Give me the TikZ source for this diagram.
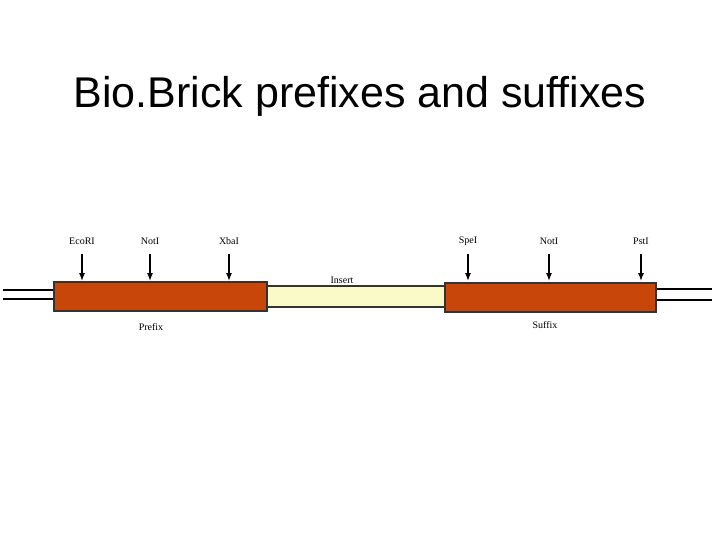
\documentclass[tikz,border=0pt]{standalone}
\usepackage{fontspec}
\usetikzlibrary{arrows.meta}
\setmainfont{Liberation Serif}
\newfontfamily\titlefont{Liberation Sans}
\definecolor{brick}{HTML}{C8460A}
\definecolor{ins}{HTML}{FAFAC8}
\begin{document}
\begin{tikzpicture}[x=1pt,y=-1pt,
 box/.style={draw=black!80,line width=1.5pt},
 lbl/.style={font=\fontsize{10}{11}\selectfont,inner sep=0pt},
 cut/.style={-{Latex[length=8pt,width=6pt]},line width=1.3pt}]
\useasboundingbox (0,0) rectangle (720,540);
\node (title) at (360,96) {\titlefont\fontsize{43}{47}\selectfont Bio.Brick prefixes and suffixes};
\draw[line width=2.5pt] (3,290) -- (54,290) (656,289) -- (712,289);
\draw[line width=1.5pt] (3,299) -- (54,299) (656,300) -- (712,300);
\node[box,fill=ins,minimum width=178pt,minimum height=21pt,inner sep=0pt] (ins) at (356,296.5) {};
\node[box,fill=brick,minimum width=213pt,minimum height=29pt,inner sep=0pt] (pre) at (160.5,296.5) {};
\node[box,fill=brick,minimum width=211pt,minimum height=29pt,inner sep=0pt] (suf) at (550.5,297.5) {};
\node[lbl] (insl) at (342,280) {Insert};
\node[lbl] (prel) at (151,327) {Prefix};
\node[lbl] (sufl) at (545,325) {Suffix};
\foreach \n/\x/\t in {e/82/EcoRI,n1/150/NotI,x/229/XbaI,s/468/SpeI,n2/549/NotI,p/641/PstI}{
 \node[lbl] (\n) at (\x,241) {\t};
 \coordinate (\n a) at (\x,254);
 \coordinate (\n b) at (\x,281);
 \draw[cut] (\n a) -- (\n b);
}
\end{tikzpicture}
\end{document}
